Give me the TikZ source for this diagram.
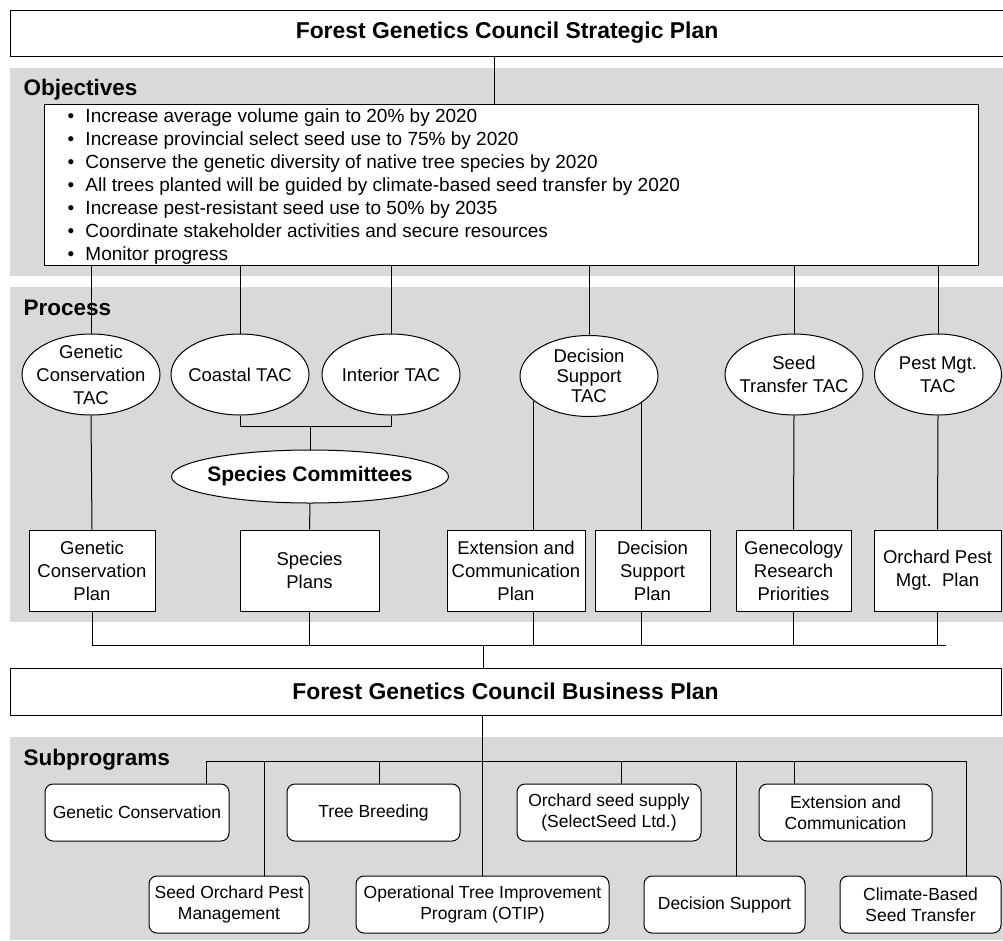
\documentclass[tikz,border=0pt]{standalone}
\usepackage{fontspec}
\setmainfont{Liberation Sans}
\usetikzlibrary{shapes.geometric, positioning, calc}
\definecolor{bandgray}{RGB}{217, 217, 217}

\begin{document}
\begin{tikzpicture}[
  x=1pt, y=-1pt, line width=1pt,
  headbox/.style={draw, fill=white, minimum height=46pt, inner sep=0pt, font=\fontsize{22.9}{27}\selectfont\bfseries},
  sectlabel/.style={anchor=base west, inner sep=0pt, font=\fontsize{22.5}{26}\selectfont\bfseries},
  goaltext/.style={anchor=base west, inner sep=0pt, font=\fontsize{19}{23}\selectfont},
  tacell/.style={ellipse, draw, fill=white, minimum width=138pt, minimum height=81pt, inner sep=0pt},
  tactext/.style={align=center, inner sep=0pt, font=\fontsize{18.5}{23}\selectfont},
  planbox/.style={draw, fill=white, minimum height=81pt, inner sep=0pt, align=center, font=\fontsize{18.5}{23}\selectfont},
  subbox/.style={draw, fill=white, rounded corners=8pt, minimum height=57pt, inner sep=0pt, align=center, font=\fontsize{17.5}{20.5}\selectfont}
]
  \useasboundingbox (0,0) rectangle (1003,940);

  % grey bands
  \fill[bandgray] (10,68) rectangle (1003,276);
  \fill[bandgray] (10,287) rectangle (1003,622);
  \fill[bandgray] (10,737) rectangle (1003,940);

  \node[headbox, minimum width=994pt] (strat) at (507,33) {Forest Genetics Council Strategic Plan};

  \node[sectlabel] (objlbl) at (23,95) {Objectives};
  \node[draw, fill=white, minimum width=934pt, minimum height=161pt, inner sep=0pt] (obj) at (511,184.5) {};
  \foreach \goal [count=\i] in {Increase average volume gain to 20\% by 2020,
      Increase provincial select seed use to 75\% by 2020,
      Conserve the genetic diversity of native tree species by 2020,
      All trees planted will be guided by climate-based seed transfer by 2020,
      Increase pest-resistant seed use to 50\% by 2035,
      Coordinate stakeholder activities and secure resources,
      Monitor progress}
    \node[goaltext] (goal\i) at (67, 99+23*\i) {\makebox[18pt][l]{\textbullet}\goal};
  \draw ([xshift=-13pt]strat.south) -- ([xshift=-17pt]obj.north);

  \node[sectlabel] (proclbl) at (23,315) {Process};
  \node[tacell, label={[tactext]center:{Genetic\\Conservation\\TAC}}] (gctac) at (91,374.5) {};
  \node[tacell, label={[tactext]center:Coastal TAC}] (coastal) at (240,374.5) {};
  \node[tacell, label={[tactext]center:Interior TAC}] (interior) at (391,374.5) {};
  \node[tacell, label={[tactext, font=\fontsize{18.5}{20}\selectfont]center:{Decision\\Support\\TAC}}] (dstac) at (589,376) {};
  \node[tacell, label={[tactext]center:{Seed\\Transfer TAC}}] (sttac) at (794,374.5) {};
  \node[tacell, minimum width=127pt, label={[tactext]center:{Pest Mgt.\\TAC}}] (pesttac) at (938,374.5) {};
  \node[tacell, minimum width=277pt, minimum height=53pt, label={[tactext, font=\fontsize{21}{25}\selectfont\bfseries]center:Species Committees}] (species) at (310,476.5) {};

  \foreach \tac in {gctac, coastal, interior, dstac, sttac, pesttac}
    \draw (obj.south -| \tac.north) -- (\tac.north);
  \draw (coastal.south) -- ++(0,11) -| (interior.south);
  \draw (species.north) -- ++(0,-24);

  \node[planbox, minimum width=126pt] (gcplan) at (92,570.5) {Genetic\\Conservation\\Plan};
  \node[planbox, minimum width=139pt] (spplan) at (309.5,570.5) {Species\\Plans};
  \node[planbox, minimum width=138pt] (extplan) at (516,570.5) {Extension and\\Communication\\Plan};
  \node[planbox, minimum width=115pt] (dsplan) at (652.5,570.5) {Decision\\Support\\Plan};
  \node[planbox, minimum width=115pt] (geneco) at (793.5,570.5) {Genecology\\Research\\Priorities};
  \node[planbox, minimum width=127pt] (pestplan) at (937.5,570.5) {Orchard Pest\\Mgt.\ \ Plan};

  \draw (gctac.south) -- (gcplan.north);
  \draw (species.south) -- (spplan.north);
  \draw (dstac.-156) -- (dstac.-156 |- extplan.north);
  \draw (dstac.-27.6) -- (dstac.-27.6 |- dsplan.north);
  \draw (sttac.south) -- (geneco.north);
  \draw (pesttac.south) -- (pestplan.north);

  \node[headbox, minimum width=991pt, minimum height=47pt] (biz) at (505.5,691.5) {Forest Genetics Council Business Plan};

  \coordinate (collect) at (0,645);
  \draw (gcplan.south) |- ([xshift=8pt]pestplan.south |- collect);
  \foreach \plan in {spplan, geneco, pestplan}
    \draw (\plan.south) -- (\plan.south |- collect);
  \draw (dstac.-156 |- extplan.south) -- (dstac.-156 |- collect);
  \draw (dstac.-27.6 |- dsplan.south) -- (dstac.-27.6 |- collect);
  \draw ([xshift=-22.5pt]biz.north) -- ([xshift=-22.5pt]biz.north |- collect);

  \node[sectlabel] (sublbl) at (23,765) {Subprograms};
  \node[subbox, minimum width=184pt] (gcsub) at (137,812.5) {Genetic Conservation};
  \node[subbox, minimum width=173pt] (breedsub) at (373.5,812.5) {Tree Breeding};
  \node[subbox, minimum width=184pt] (seedsub) at (609,812.5) {Orchard seed supply\\(SelectSeed Ltd.)};
  \node[subbox, minimum width=173pt] (extsub) at (845.5,812.5) {Extension and\\Communication};
  \node[subbox, minimum width=160pt] (pestsub) at (229,904.5) {Seed Orchard Pest\\Management};
  \node[subbox, minimum width=253pt] (otipsub) at (482.5,904.5) {Operational Tree Improvement\\Program (OTIP)};
  \node[subbox, minimum width=161pt] (dssub) at (724.5,904.5) {Decision Support};
  \node[subbox, minimum width=161pt] (climsub) at (920.5,904.5) {Climate-Based\\Seed Transfer};

  \coordinate (bus) at (0,761);
  \draw ([xshift=69pt]gcsub.north) |- ([xshift=45.5pt]climsub.north |- bus) -- ([xshift=45.5pt]climsub.north);
  \foreach \sub/\dx in {pestsub/35pt, breedsub/5.5pt, seedsub/12pt, dssub/11.5pt, extsub/-51.5pt}
    \draw ([xshift=\dx]\sub.north) -- ([xshift=\dx]\sub.north |- bus);
  \draw (biz.south -| otipsub.north) -- (otipsub.north);
\end{tikzpicture}
\end{document}
